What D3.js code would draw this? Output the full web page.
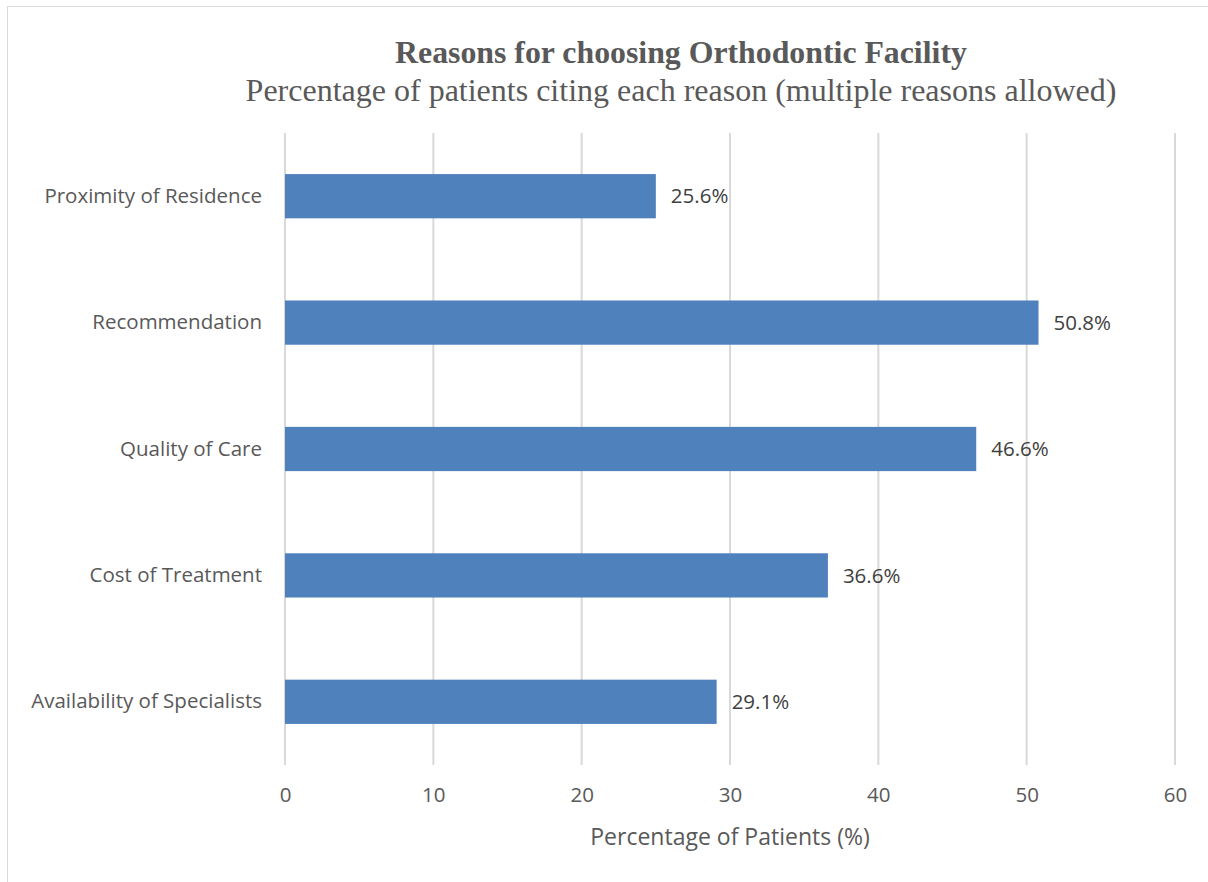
<!DOCTYPE html>
<html>
<head>
<meta charset="utf-8">
<script src="https://cdn.jsdelivr.net/npm/d3@7"></script>
<style>
  body { margin: 0; background: #fff; }
</style>
</head>
<body>
<svg id="chart" width="1208" height="882"></svg>
<script>
// data
const categories = ["Proximity of Residence", "Recommendation", "Quality of Care", "Cost of Treatment", "Availability of Specialists"];
const barValues = [25.0, 50.8, 46.6, 36.6, 29.1];
const labelValues = [25.6, 50.8, 46.6, 36.6, 29.1];
const xTicks = [0, 10, 20, 30, 40, 50, 60];

const svg = d3.select("#chart");
const textColor = "#595959";
const margin = { top: 133, right: 33, bottom: 117, left: 285 };
const width = 1208, height = 882;

// outer border
svg.append("rect")
    .attr("x", 7.5).attr("y", 6.5)
    .attr("width", 1208).attr("height", 880)
    .attr("fill", "white")
    .attr("stroke", "#d9d9d9")
    .attr("stroke-width", 1);

const x = d3.scaleLinear()
    .domain([0, 60])
    .range([margin.left, width - margin.right]);

const y = d3.scaleBand()
    .domain(categories)
    .range([margin.top, height - margin.bottom])
    .paddingInner(0.65)
    .paddingOuter(0.325);

// gridlines
svg.append("g")
    .selectAll("line")
    .data(xTicks)
    .join("line")
    .attr("x1", d => x(d)).attr("x2", d => x(d))
    .attr("y1", margin.top).attr("y2", height - margin.bottom)
    .attr("stroke", "#d9d9d9")
    .attr("stroke-width", 2);

// bars
svg.append("g")
    .selectAll("rect")
    .data(categories)
    .join("rect")
    .attr("x", x(0))
    .attr("y", d => y(d))
    .attr("width", (d, i) => x(barValues[i]) - x(0))
    .attr("height", y.bandwidth())
    .attr("fill", "#4f81bd");

// value labels
svg.append("g")
    .selectAll("text")
    .data(categories)
    .join("text")
    .attr("x", (d, i) => x(barValues[i]) + 15)
    .attr("y", d => y(d) + y.bandwidth() / 2)
    .attr("dy", "0.35em")
    .style("font-family", "'Open Sans', sans-serif")
    .style("font-size", "20.5px")
    .style("fill", "#404040")
    .text((d, i) => labelValues[i].toFixed(1) + "%");

// category labels
const yAxis = svg.append("g")
    .attr("transform", `translate(${margin.left},0)`)
    .call(d3.axisLeft(y).tickSize(0).tickPadding(23));
yAxis.select(".domain").remove();
yAxis.selectAll("text")
    .style("font-family", "'Open Sans', sans-serif")
    .style("font-size", "20.5px")
    .style("fill", textColor);

// x tick labels
const xAxis = svg.append("g")
    .attr("transform", `translate(0,${height - margin.bottom})`)
    .call(d3.axisBottom(x).tickValues(xTicks).tickSize(0).tickPadding(22));
xAxis.select(".domain").remove();
xAxis.selectAll("text")
    .style("font-family", "'Open Sans', sans-serif")
    .style("font-size", "20.5px")
    .style("fill", textColor);

// axis title
svg.append("text")
    .attr("x", x(30))
    .attr("y", 845)
    .attr("text-anchor", "middle")
    .style("font-family", "'Open Sans', sans-serif")
    .style("font-size", "23px")
    .style("fill", textColor)
    .text("Percentage of Patients (%)");

// titles
svg.append("text")
    .attr("x", 681)
    .attr("y", 63)
    .attr("text-anchor", "middle")
    .style("font-family", "'Liberation Serif', 'Times New Roman', serif")
    .style("font-weight", "bold")
    .style("font-size", "31.8px")
    .style("fill", textColor)
    .text("Reasons for choosing Orthodontic Facility");

svg.append("text")
    .attr("x", 681)
    .attr("y", 101)
    .attr("text-anchor", "middle")
    .style("font-family", "'Liberation Serif', 'Times New Roman', serif")
    .style("font-size", "32px")
    .style("fill", textColor)
    .text("Percentage of patients citing each reason (multiple reasons allowed)");
</script>
</body>
</html>
